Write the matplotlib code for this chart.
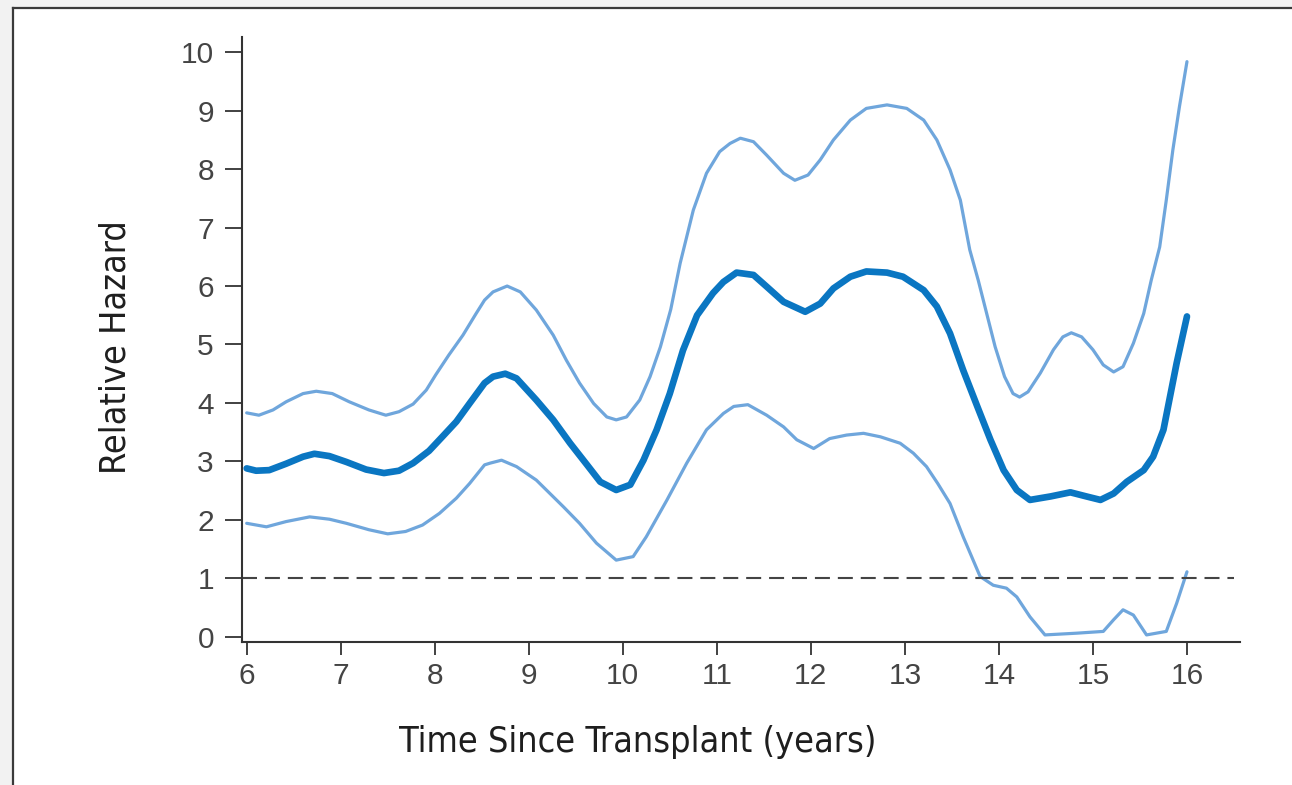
import matplotlib
matplotlib.use("Agg")
import matplotlib.pyplot as plt
from matplotlib import font_manager
from matplotlib.lines import Line2D
from matplotlib.patches import Rectangle

# Relative hazard estimate with upper / lower confidence bands
hr_years = [6.0, 6.10, 6.24, 6.42, 6.60, 6.72, 6.88, 7.06, 7.27, 7.46, 7.62, 7.77,
            7.94, 8.08, 8.23, 8.37, 8.53, 8.62, 8.75, 8.87, 9.08, 9.26, 9.44, 9.62,
            9.76, 9.93, 10.08, 10.22, 10.36, 10.50, 10.64, 10.79, 10.96, 11.07, 11.21,
            11.39, 11.53, 11.71, 11.94, 12.10, 12.24, 12.42, 12.59, 12.81, 12.98, 13.20,
            13.34, 13.48, 13.62, 13.77, 13.91, 14.05, 14.19, 14.33, 14.55, 14.76, 14.93,
            15.08, 15.22, 15.36, 15.54, 15.64, 15.75, 15.82, 15.89, 15.96, 16.0]
hr_values = [2.88, 2.84, 2.85, 2.96, 3.08, 3.13, 3.09, 2.99, 2.86, 2.80, 2.84, 2.97,
             3.18, 3.42, 3.68, 3.99, 4.34, 4.45, 4.50, 4.42, 4.05, 3.71, 3.31, 2.94,
             2.65, 2.51, 2.60, 3.02, 3.54, 4.16, 4.90, 5.50, 5.88, 6.07, 6.23,
             6.19, 5.99, 5.73, 5.56, 5.70, 5.96, 6.16, 6.25, 6.23, 6.16, 5.93,
             5.65, 5.19, 4.56, 3.94, 3.37, 2.85, 2.51, 2.34, 2.40, 2.47, 2.40,
             2.34, 2.45, 2.65, 2.85, 3.08, 3.54, 4.11, 4.68, 5.19, 5.48]

upper_years = [6.0, 6.13, 6.28, 6.42, 6.60, 6.74, 6.91, 7.09, 7.30, 7.48, 7.62, 7.77,
               7.91, 8.01, 8.15, 8.30, 8.44, 8.53, 8.62, 8.77, 8.91, 9.08, 9.26, 9.40,
               9.54, 9.69, 9.83, 9.93, 10.04, 10.18, 10.29, 10.40, 10.51, 10.61, 10.75,
               10.89, 11.03, 11.14, 11.25, 11.39, 11.53, 11.71, 11.83, 11.97, 12.10, 12.24,
               12.42, 12.59, 12.81, 13.02, 13.20, 13.34, 13.48, 13.59, 13.69, 13.78, 13.87,
               13.96, 14.06, 14.15, 14.22, 14.31, 14.44, 14.58, 14.68, 14.77, 14.88, 15.00,
               15.11, 15.22, 15.32, 15.43, 15.54, 15.62, 15.71, 15.78, 15.85, 15.92, 16.0]
upper_values = [3.83, 3.79, 3.88, 4.02, 4.16, 4.20, 4.16, 4.02, 3.88, 3.79, 3.85, 3.98,
                4.22, 4.48, 4.82, 5.16, 5.53, 5.76, 5.90, 6.00, 5.90, 5.59, 5.16, 4.73,
                4.34, 3.99, 3.76, 3.71, 3.76, 4.05, 4.45, 4.96, 5.60, 6.39, 7.30,
                7.93, 8.30, 8.44, 8.53, 8.47, 8.24, 7.93, 7.81, 7.90, 8.16, 8.50,
                8.84, 9.04, 9.10, 9.04, 8.84, 8.50, 7.99, 7.47, 6.62, 6.10, 5.53,
                4.96, 4.45, 4.16, 4.10, 4.19, 4.51, 4.91, 5.13, 5.20, 5.13, 4.91,
                4.65, 4.53, 4.62, 5.02, 5.53, 6.10, 6.67, 7.47, 8.33, 9.07, 9.84]

lower_years = [6.0, 6.21, 6.42, 6.67, 6.88, 7.06, 7.30, 7.50, 7.69, 7.87, 8.05, 8.23,
               8.37, 8.53, 8.59, 8.71, 8.87, 9.08, 9.37, 9.54, 9.72, 9.93, 10.11, 10.25,
               10.47, 10.68, 10.89, 11.07, 11.18, 11.33, 11.53, 11.71, 11.85, 12.03, 12.20,
               12.38, 12.56, 12.74, 12.95, 13.09, 13.23, 13.35, 13.48, 13.62, 13.80, 13.94,
               14.08, 14.19, 14.33, 14.49, 14.83, 15.11, 15.22, 15.32, 15.43, 15.57, 15.78,
               15.89, 16.0]
lower_values = [1.94, 1.88, 1.97, 2.05, 2.01, 1.94, 1.83, 1.76, 1.80, 1.91, 2.11, 2.37,
                2.62, 2.94, 2.97, 3.02, 2.91, 2.68, 2.22, 1.94, 1.60, 1.31, 1.37, 1.71,
                2.34, 2.97, 3.54, 3.82, 3.94, 3.97, 3.79, 3.59, 3.37, 3.22, 3.39,
                3.45, 3.48, 3.42, 3.31, 3.14, 2.91, 2.62, 2.28, 1.71, 1.03, 0.88,
                0.83, 0.68, 0.34, 0.03, 0.06, 0.09, 0.29, 0.46, 0.37, 0.03, 0.09,
                0.57, 1.11]

x_ticks = list(range(6, 17))
y_ticks = list(range(0, 11))

DARK = "#0a76c2"
LIGHT = "#6fa6dc"
AXIS = "#333333"

installed = {f.name for f in font_manager.fontManager.ttflist}
if "Liberation Sans Narrow" in installed:
    label_font = {"family": "Liberation Sans Narrow", "size": 31.5}
else:
    label_font = {"family": "DejaVu Sans", "stretch": "condensed", "size": 25.8}
tick_family = "Liberation Sans" if "Liberation Sans" in installed else "DejaVu Sans"

W, H = 1292, 785
fig = plt.figure(figsize=(W / 100, H / 100), dpi=100, facecolor="#f2f2f2")

# white panel with a dark rule on its top and left edges
fig.patches.append(Rectangle((13 / W, 0), 1, 1 - 8 / H, transform=fig.transFigure,
                             facecolor="white", edgecolor="none", zorder=-2))
fig.lines.append(Line2D([13 / W, 1], [1 - 8 / H, 1 - 8 / H], transform=fig.transFigure,
                        color="#3a3a3a", lw=1.6))
fig.lines.append(Line2D([13 / W, 13 / W], [0, 1 - 8 / H], transform=fig.transFigure,
                        color="#3a3a3a", lw=1.6))

ax = fig.add_axes([241.7 / W, 1 - 641.7 / H, (1240 - 241.7) / W, (641.7 - 36.7) / H])
ax.patch.set_alpha(0)

ax.plot(upper_years, upper_values, color=LIGHT, lw=2.3, solid_capstyle="round",
        solid_joinstyle="round")
ax.plot(lower_years, lower_values, color=LIGHT, lw=2.3, solid_capstyle="round",
        solid_joinstyle="round")
ax.plot(hr_years, hr_values, color=DARK, lw=4.8, solid_capstyle="round",
        solid_joinstyle="round")

x0, x1 = 5.947, 16.564
ax.axhline(1, xmin=0, xmax=(16.5 - x0) / (x1 - x0), color="#444444", lw=1.5,
           dashes=(7.2, 3.8))

ax.set_xlim(x0, x1)
ax.set_ylim(-0.086, 10.267)
ax.set_xticks(x_ticks)
ax.set_yticks(y_ticks)
for s in ("top", "right"):
    ax.spines[s].set_visible(False)
for s in ("left", "bottom"):
    ax.spines[s].set_color(AXIS)
    ax.spines[s].set_linewidth(1.5)

ax.tick_params(axis="y", length=12, width=1.3, color=AXIS, pad=8,
               labelsize=21.5, labelcolor="#444444")
ax.tick_params(axis="x", length=9, width=1.3, color=AXIS, pad=5.5,
               labelsize=21.5, labelcolor="#444444")
for lab in ax.get_xticklabels() + ax.get_yticklabels():
    lab.set_family(tick_family)

fig.text(637.5 / W, 1 - 752 / H, "Time Since Transplant (years)", ha="center",
         va="baseline", color="#1e1e1e", **label_font)
fig.text(125 / W, 1 - 347 / H, "Relative Hazard", rotation=90, rotation_mode="anchor",
         ha="center", va="baseline", color="#1e1e1e", **label_font)

fig.savefig("out.png", dpi=100, facecolor=fig.get_facecolor())
